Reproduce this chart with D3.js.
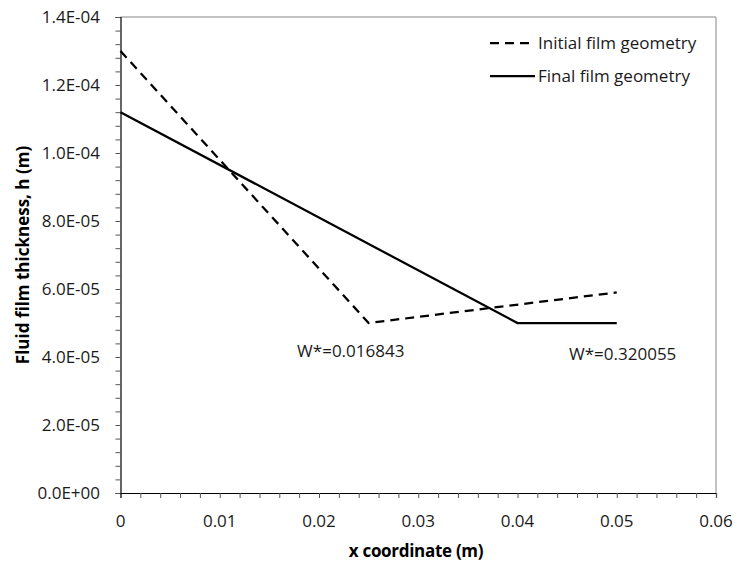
<!DOCTYPE html>
<html>
<head>
<meta charset="utf-8">
<script src="https://cdn.jsdelivr.net/npm/d3@7"></script>
<style>
  html, body { margin: 0; padding: 0; background: #fff; }
  svg { display: block; font-family: "Open Sans", "Noto Sans", sans-serif; }
</style>
</head>
<body>
<svg id="chart" width="737" height="565"></svg>
<script>
// Film thickness profiles along the bearing (x in m, h in m)
const initialX = [0, 0.025, 0.05];
const initialH = [1.30e-4, 5.0e-5, 5.9e-5];
const finalX = [0, 0.04, 0.05];
const finalH = [1.12e-4, 5.0e-5, 5.0e-5];

const seriesNames = ["Initial film geometry", "Final film geometry"];
const xTicks = [0, 0.01, 0.02, 0.03, 0.04, 0.05, 0.06];
const yTicks = [0, 2e-5, 4e-5, 6e-5, 8e-5, 1e-4, 1.2e-4, 1.4e-4];
const annotations = [
  { x: 0.0232, h: 4.0e-5, text: "W*=0.016843" },
  { x: 0.0506, h: 3.9e-5, text: "W*=0.320055" }
];

const svg = d3.select("#chart");
const plot = { left: 120.5, right: 716, top: 17, bottom: 493 };
const fs = 17;

const x = d3.scaleLinear().domain([0, 0.06]).range([plot.left, plot.right]);
const y = d3.scaleLinear().domain([0, 1.4e-4]).range([plot.bottom, plot.top]);

const fmtY = v => {
  if (v === 0) return "0.0E+00";
  const e = Math.floor(Math.log10(v) + 1e-9);
  const m = v / Math.pow(10, e);
  const es = (e < 0 ? "-" : "+") + String(Math.abs(e)).padStart(2, "0");
  return m.toFixed(1) + "E" + es;
};

// plot area frame (top and right sides)
svg.append("path")
  .attr("d", `M${plot.left},${plot.top}H${plot.right}V${plot.bottom}`)
  .attr("fill", "none").attr("stroke", "#868686").attr("stroke-width", 1);

// minor ticks
const xMinor = d3.range(0, 0.0601, 0.002);
const yMinor = d3.range(0, 1.401e-4, 4e-6);

const xAxis = svg.append("g").attr("transform", `translate(0,${plot.bottom})`)
  .call(d3.axisBottom(x).tickValues(xMinor).tickSize(5).tickFormat(""));
const yAxis = svg.append("g").attr("transform", `translate(${plot.left},0)`)
  .call(d3.axisLeft(y).tickValues(yMinor).tickSize(5).tickFormat(""));
[xAxis, yAxis].forEach(g => {
  g.selectAll(".domain").attr("stroke", "#000").attr("stroke-width", 1.2);
  g.selectAll(".tick line").attr("stroke", "#555").attr("stroke-width", 1);
});

// tick labels
svg.append("g").selectAll("text").data(xTicks).join("text")
  .attr("x", d => x(d)).attr("y", 527)
  .attr("text-anchor", "middle").attr("font-size", fs).attr("fill", "#1a1a1a")
  .text(d => d === 0 ? "0" : d.toFixed(2));
svg.append("g").selectAll("text").data(yTicks).join("text")
  .attr("x", 100).attr("y", d => y(d) + 6)
  .attr("text-anchor", "end").attr("font-size", fs).attr("fill", "#1a1a1a")
  .text(fmtY);

// axis titles
svg.append("text").attr("x", 416).attr("y", 557)
  .attr("text-anchor", "middle").attr("font-size", fs).attr("font-weight", "bold")
  .attr("letter-spacing", -0.3)
  .text("x coordinate (m)");
svg.append("text")
  .attr("transform", "translate(29,255) rotate(-90)")
  .attr("text-anchor", "middle").attr("font-size", fs).attr("font-weight", "bold")
  .text("Fluid film thickness, h (m)");

// lines
const line = d3.line().x(d => x(d[0])).y(d => y(d[1]));
const initialData = initialX.map((v, i) => [v, initialH[i]]);
const finalData = finalX.map((v, i) => [v, finalH[i]]);

svg.append("path").datum(initialData).attr("d", line)
  .attr("fill", "none").attr("stroke", "#000").attr("stroke-width", 2.25)
  .attr("stroke-dasharray", "9,6");
svg.append("path").datum(finalData).attr("d", line)
  .attr("fill", "none").attr("stroke", "#000").attr("stroke-width", 2.25);

// annotations
svg.append("g").selectAll("text").data(annotations).join("text")
  .attr("x", d => x(d.x)).attr("y", d => y(d.h))
  .attr("text-anchor", "middle").attr("font-size", fs).attr("fill", "#1a1a1a")
  .text(d => d.text);

// legend
const legend = svg.append("g");
seriesNames.forEach((name, i) => {
  const ly = 43 + i * 33;
  legend.append("line")
    .attr("x1", 490).attr("x2", 535).attr("y1", ly).attr("y2", ly)
    .attr("stroke", "#000").attr("stroke-width", 2.25)
    .attr("stroke-dasharray", i === 0 ? "9,6" : null);
  legend.append("text").attr("x", 538).attr("y", ly + 6)
    .attr("font-size", fs).attr("fill", "#1a1a1a").text(name);
});
</script>
</body>
</html>
